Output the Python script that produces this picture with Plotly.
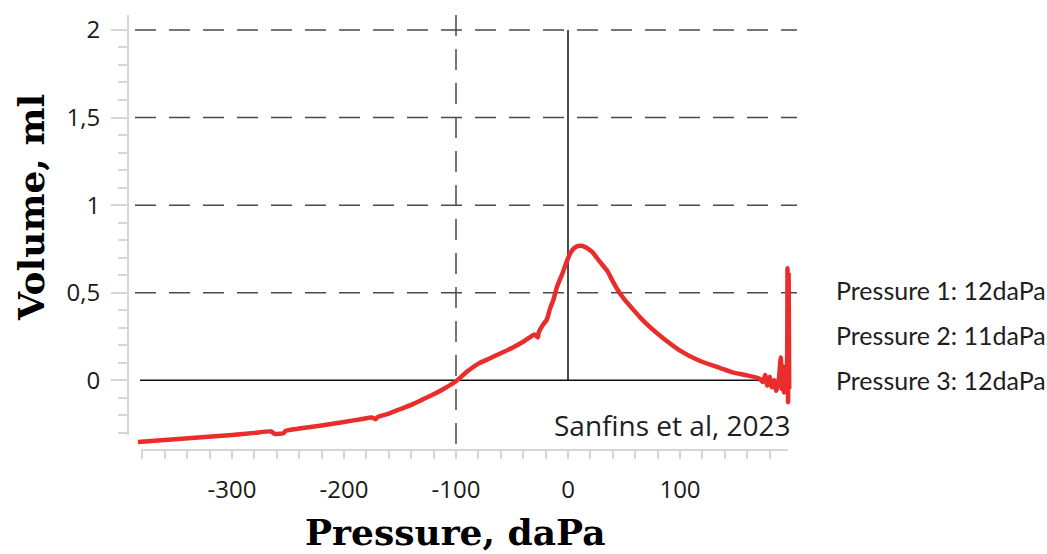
import plotly.graph_objects as go

# ---------------- data ----------------
pressure = [-384, -360, -330, -300, -280, -265, -262, -254, -252, -240, -220, -200,
            -185, -175, -172, -170, -160, -150, -140, -130, -120, -110, -100, -90,
            -80, -70, -60, -50, -40, -33, -30, -27, -26, -22, -19, -16, -13, -10,
            -5, -1, 2, 5, 8, 11, 15, 18, 22, 28, 35, 40, 45, 50, 58, 65, 73, 85,
            100, 118, 136, 147, 160, 171, 174, 176, 178, 180, 182, 184, 186, 188,
            190, 191, 192, 193, 195, 196, 196.5, 197, 197.5]
volume = [-0.352, -0.340, -0.327, -0.312, -0.300, -0.292, -0.305, -0.302, -0.288,
          -0.275, -0.258, -0.238, -0.222, -0.212, -0.222, -0.210, -0.190, -0.165,
          -0.140, -0.110, -0.080, -0.045, -0.005, 0.050, 0.095, 0.125, 0.155,
          0.185, 0.220, 0.250, 0.262, 0.245, 0.275, 0.320, 0.345, 0.410, 0.460,
          0.530, 0.610, 0.680, 0.725, 0.752, 0.765, 0.768, 0.762, 0.750, 0.730,
          0.680, 0.625, 0.565, 0.510, 0.465, 0.405, 0.355, 0.305, 0.240, 0.170,
          0.110, 0.070, 0.045, 0.028, 0.010, -0.010, 0.030, -0.030, 0.020, -0.040,
          0.000, -0.060, -0.010, 0.130, -0.050, 0.080, -0.070, -0.020, 0.640,
          -0.125, 0.600, -0.050]

x_tickvals = [-300, -200, -100, 0, 100]
x_ticktext = ["-300", "-200", "-100", "0", "100"]
y_tickvals = [0, 0.5, 1, 1.5, 2]
y_ticktext = ["0", "0,5", "1", "1,5", "2"]
y_gridvals = [0.5, 1, 1.5, 2]

x_title = "Pressure, daPa"
y_title = "Volume, ml"
source_note = "Sanfins et al, 2023"
legend_texts = ["Pressure 1: 12daPa", "Pressure 2: 11daPa", "Pressure 3: 12daPa"]

# ---------------- layout geometry ----------------
W, H = 1047, 554
L, R, T, B = 128, 797, 13, 450          # plot area in pixels
PW, PH = R - L, B - T


def px_x(px):
    return (px - L) / PW


def px_y(py):
    return (B - py) / PH


X0PX, XSCALE = 568.0, 1.12   # pixel of x=0, px per unit
Y0PX, YSCALE = 380.0, 176.0  # pixel of y=0, px per unit


def dx(px):
    return (px - X0PX) / XSCALE


def dy(py):
    return (Y0PX - py) / YSCALE


RED = "#e92d2d"
GRID = "#4a4a4a"
AXIS = "#d6d6d6"
TICKFONT = dict(family="Open Sans", size=24, color="#1a1a1a")

fig = go.Figure()

fig.add_trace(go.Scatter(
    x=pressure, y=volume, mode="lines",
    line=dict(color=RED, width=4.5, shape="spline", smoothing=0.6),
    hoverinfo="skip", showlegend=False,
))

# invisible trace for the tick-carrying axes
fig.add_trace(go.Scatter(
    x=[0], y=[0], xaxis="x2", yaxis="y2", mode="markers",
    marker=dict(opacity=0), hoverinfo="skip", showlegend=False,
))

shapes = []
for g in y_gridvals:
    shapes.append(dict(type="line", xref="x", yref="y", x0=dx(135), x1=dx(797),
                       y0=g, y1=g, layer="below",
                       line=dict(color=GRID, width=1.5, dash="21px,13px")))
# dashed vertical at -100
shapes.append(dict(type="line", xref="x", yref="y", x0=-100, x1=-100, layer="below",
                   y0=dy(13), y1=dy(447), line=dict(color=GRID, width=1.5, dash="21px,13px")))
# zero lines
shapes.append(dict(type="line", xref="x", yref="y", x0=dx(140), x1=dx(790), y0=0, y1=0,
                   line=dict(color="#111111", width=1.5), layer="below"))
shapes.append(dict(type="line", xref="x", yref="y", x0=0, x1=0, y0=0, y1=2,
                   line=dict(color="#111111", width=1.5), layer="below"))

annotations = [
    dict(text=source_note, xref="paper", yref="paper", x=px_x(793), y=px_y(425),
         xanchor="right", yanchor="middle", showarrow=False,
         font=dict(family="Open Sans", size=28, color="#1e1e1e")),
    dict(text=x_title, xref="paper", yref="paper", x=px_x(455), y=px_y(532),
         xanchor="center", yanchor="middle", showarrow=False,
         font=dict(family="DejaVu Serif", size=36, color="#000000", weight="bold")),
    dict(text=y_title, xref="paper", yref="paper", x=px_x(31), y=px_y(207),
         xanchor="center", yanchor="middle", showarrow=False, textangle=-90,
         font=dict(family="DejaVu Serif", size=36, color="#000000", weight="bold")),
]
for txt, ypx in zip(legend_texts, [289, 334, 380]):
    annotations.append(dict(text=txt, xref="paper", yref="paper", x=px_x(834), y=px_y(ypx),
                            xanchor="left", yanchor="middle", showarrow=False,
                            font=dict(family="Lato", size=25, color="#1e1e1e")))

fig.update_layout(
    width=W, height=H,
    margin=dict(l=L, r=W - R, t=T, b=H - B, pad=0),
    paper_bgcolor="white", plot_bgcolor="rgba(0,0,0,0)",
    xaxis=dict(range=[dx(L), dx(R)], visible=False, domain=[0, 1]),
    yaxis=dict(range=[dy(B), dy(T)], visible=False, domain=[0, 1]),
    xaxis2=dict(
        domain=[px_x(141), px_x(788)], range=[dx(141), dx(788)],
        anchor="free", position=0, showgrid=False, zeroline=False,
        showline=True, linecolor=AXIS, linewidth=2,
        tickmode="array", tickvals=x_tickvals, ticktext=x_ticktext,
        ticks="outside", ticklen=8, tickcolor=AXIS, tickwidth=1.5,
        tickfont=TICKFONT, ticklabelstandoff=10,
        minor=dict(tickmode="linear", tick0=0, dtick=20, ticks="outside",
                   ticklen=8, tickcolor=AXIS, tickwidth=1.5, showgrid=False),
    ),
    yaxis2=dict(
        domain=[px_y(435), 1], range=[dy(435), dy(T)],
        anchor="free", position=0, showgrid=False, zeroline=False,
        showline=True, linecolor=AXIS, linewidth=2,
        tickmode="array", tickvals=y_tickvals, ticktext=y_ticktext,
        ticks="outside", ticklen=16, tickcolor=AXIS, tickwidth=1.5,
        tickfont=TICKFONT, ticklabelstandoff=6,
        minor=dict(tickmode="linear", tick0=0, dtick=0.1, ticks="outside",
                   ticklen=9, tickcolor=AXIS, tickwidth=1.5, showgrid=False),
    ),
    shapes=shapes,
    annotations=annotations,
)

fig.write_html("out.html", config={"displayModeBar": False},
               post_script="document.body.style.margin='0px';")
